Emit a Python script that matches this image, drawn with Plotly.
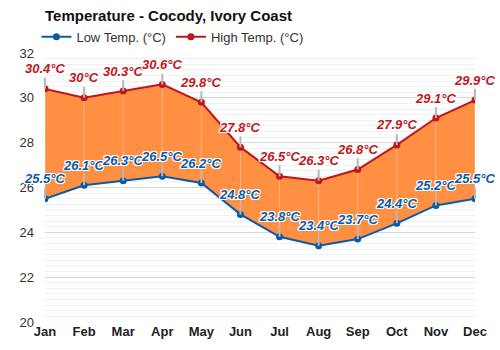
import plotly.graph_objects as go

months = ["Jan", "Feb", "Mar", "Apr", "May", "Jun", "Jul", "Aug", "Sep", "Oct", "Nov", "Dec"]
low = [25.5, 26.1, 26.3, 26.5, 26.2, 24.8, 23.8, 23.4, 23.7, 24.4, 25.2, 25.5]
high = [30.4, 30.0, 30.3, 30.6, 29.8, 27.8, 26.5, 26.3, 26.8, 27.9, 29.1, 29.9]
y_ticks = [20, 22, 24, 26, 28, 30, 32]

RED = "#c0161b"
BLUE = "#0c5aa6"
FILL = "rgb(255,143,66)"
FONT = "Liberation Sans, Arial, sans-serif"
SHADOW = ("white 1px 1px 0px, white -1px -1px 0px, white 1px -1px 0px, white -1px 1px 0px, "
          "white 0px 1px 0px, white 0px -1px 0px, white 1px 0px 0px, white -1px 0px 0px")

x = list(range(len(months)))
fig = go.Figure()

# fill band
fig.add_trace(go.Scatter(x=x, y=low, mode="lines", line=dict(width=0), showlegend=False, hoverinfo="skip"))
fig.add_trace(go.Scatter(x=x, y=high, mode="lines", line=dict(width=0), fill="tonexty",
                         fillcolor=FILL, showlegend=False, hoverinfo="skip"))

# light vertical grid segments over the fill
gx, gy = [], []
for i in x:
    gx += [i, i, None]
    gy += [low[i], high[i], None]
fig.add_trace(go.Scatter(x=gx, y=gy, mode="lines", line=dict(color="rgba(255,255,255,0.35)", width=1),
                         showlegend=False, hoverinfo="skip"))

fig.add_trace(go.Scatter(x=x, y=low, mode="lines+markers", name="Low Temp. (°C)",
                         line=dict(color=BLUE, width=2), marker=dict(color=BLUE, size=7)))
fig.add_trace(go.Scatter(x=x, y=high, mode="lines+markers", name="High Temp. (°C)",
                         line=dict(color=RED, width=2), marker=dict(color=RED, size=7)))

annots = []
for series, color in ((high, RED), (low, BLUE)):
    for i, v in enumerate(series):
        annots.append(dict(
            x=i, y=v, xref="x", yref="y", text=f"{v:g}°C", showarrow=True,
            arrowhead=0, arrowwidth=2, arrowcolor="#b8b8b8", ax=0, ay=-20,
            font=dict(family=FONT, size=13, color=color, weight="bold", style="italic", shadow=SHADOW),
        ))

fig.update_layout(
    width=500, height=350,
    margin=dict(l=45, r=25, t=53, b=28),
    paper_bgcolor="white", plot_bgcolor="white",
    font=dict(family=FONT, color="#333333", size=13),
    title=dict(text="<b>Temperature - Cocody, Ivory Coast</b>", x=0, xref="paper", xanchor="left",
               y=0.954, yanchor="middle", font=dict(size=15, color="#111111", family=FONT)),
    legend=dict(orientation="h", x=-0.02, xanchor="left", y=1.06, yanchor="middle", traceorder="normal",
                font=dict(size=13, color="#333333"), bgcolor="rgba(0,0,0,0)", itemwidth=30),
    annotations=annots,
    showlegend=True,
)
fig.update_xaxes(range=[0, 11], tickmode="array", tickvals=x, ticktext=[f"<b>{m}</b>" for m in months],
                 showgrid=False, zeroline=False, showline=False, ticks="", tickfont=dict(size=13, color="#222222"),
                 fixedrange=True)
fig.update_yaxes(range=[20, 32], tickmode="array", tickvals=y_ticks, showgrid=True, gridcolor="#d8d8d8",
                 gridwidth=1, zeroline=False, showline=False, ticks="", ticklabelstandoff=10,
                 tickfont=dict(size=13, color="#333333"),
                 minor=dict(dtick=0.25, tick0=20, showgrid=True, gridcolor="#f0f0f0", gridwidth=1),
                 fixedrange=True)

fig.write_html("out.html")
